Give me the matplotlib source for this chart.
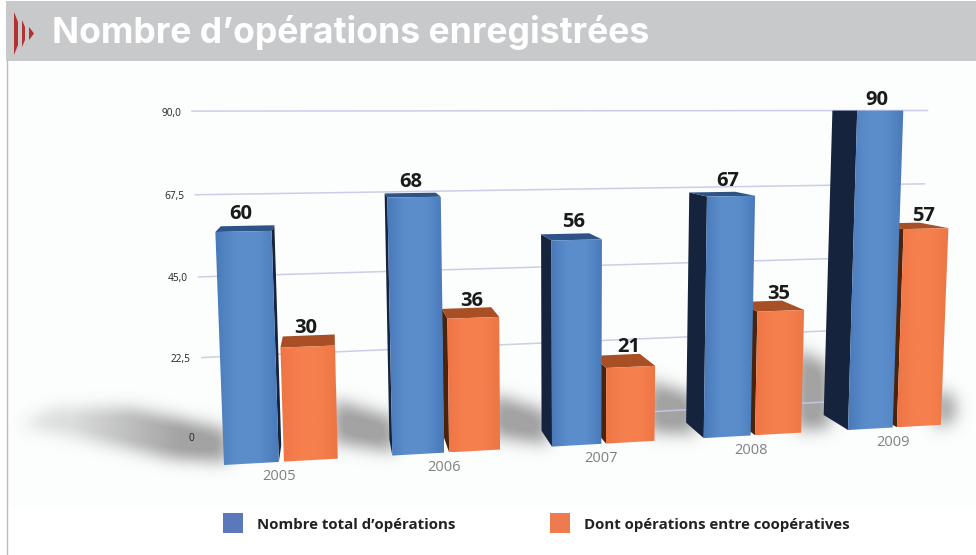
import numpy as np
import matplotlib
matplotlib.use('Agg')
import matplotlib.pyplot as plt
from matplotlib.path import Path
from matplotlib.patches import Rectangle, Polygon
from matplotlib.colors import to_rgb

years = ['2005', '2006', '2007', '2008', '2009']
total_ops = [60, 68, 56, 67, 90]
coop_ops = [30, 36, 21, 35, 57]
grid_values = [0, 22.5, 45, 67.5, 90]
grid_labels = ['0', '22,5', '45,0', '67,5', '90,0']
title = 'Nombre d\u2019opérations enregistrées'
legend_labels = ['Nombre total d\u2019opérations', 'Dont opérations entre coopératives']

BLUE = ('#4a7aba', '#5b8dcb')
ORANGE = ('#ee7646', '#f67f4e')
BLUE_SIDE, BLUE_CAP = '#16233c', '#2e5387'
ORANGE_SIDE, ORANGE_CAP = '#4a230c', '#a84f26'

# vanishing point of the bar depth + depth of bars / back wall
VP = np.array([330.0, 110.0])
BAR_DEPTH = 0.047
WALL_DEPTH = 0.084


def project(u, v, depth=0.0):
    # homography: u = group position, v = value, result in image pixels
    w = 1 + 0.027 * u - 0.0004 * v
    x = (178.9 * u + 224 - 0.23 * v) / w
    y = (2.86 * u + 465 - 3.976 * v) / w
    p = np.array([x, y])
    return p + depth * (VP - p)


def draw_bar(ax, u0, u1, value, colors, side_color, cap_color):
    fl_b, fr_b = project(u0, 0), project(u1, 0)
    fl_t, fr_t = project(u0, value), project(u1, value)
    rear = lambda p: p + BAR_DEPTH * (VP - p)
    # side face
    if fl_t[0] > VP[0]:
        a, b = fl_b, fl_t
    else:
        a, b = fr_b, fr_t
    side = np.array([a, rear(a), rear(b), b])
    ax.fill(side[:, 0], side[:, 1], color=side_color, lw=0, zorder=3)
    # cap
    cap = np.array([fl_t, fr_t, rear(fr_t), rear(fl_t)])
    ax.fill(cap[:, 0], cap[:, 1], color=cap_color, lw=0, zorder=3)
    # front face with a soft horizontal gradient
    q = np.array([fl_b, fr_b, fr_t, fl_t])
    c0, c1 = np.array(to_rgb(colors[0])), np.array(to_rgb(colors[1]))
    s = np.linspace(0, 1, 24)
    t = np.minimum(1, (1 - np.abs(2 * s - 1)) * 1.6)[:, None]
    grad = (c0 + (c1 - c0) * t)[None, :, :]
    im = ax.imshow(grad, extent=(q[:, 0].min(), q[:, 0].max(), q[:, 1].max(), q[:, 1].min()),
                   aspect='auto', interpolation='bilinear', zorder=4)
    im.set_clip_path(Polygon(q, closed=True, transform=ax.transData))
    return rear(fl_t), rear(fr_t), (fl_t[0] + fr_t[0]) / 2


def blur(a, sigma):
    r = int(3 * sigma)
    k = np.exp(-0.5 * (np.arange(-r, r + 1) / sigma) ** 2)
    k /= k.sum()
    a = np.apply_along_axis(lambda m: np.convolve(m, k, mode='same'), 0, a)
    return np.apply_along_axis(lambda m: np.convolve(m, k, mode='same'), 1, a)


W, H = 976, 555
fig = plt.figure(figsize=(W / 100, H / 100), dpi=100)
ax = fig.add_axes([0, 0, 1, 1])
ax.axis('off')

# page + header
ax.add_patch(Rectangle((7, 62), W - 7, 447, color='#fcfdfd', lw=0, zorder=0))
ax.add_patch(Rectangle((6, 1), W - 6, 60, color='#c8c9cb', lw=0, zorder=1))
ax.plot([6.5, 6.5], [61, 555], color='#b9bacb', lw=1, zorder=1)
logo_parts = [
    [(14, 12), (18, 22), (18, 45), (14, 55)],
    [(22, 20), (25, 27), (25, 40), (22, 47)],
    [(29, 27), (34, 33.5), (29, 40)],
]
for part in logo_parts:
    part = np.array(part)
    ax.fill(part[:, 0], part[:, 1], color='#b3312f', lw=0, zorder=2)
ax.text(52, 32.5, title, color='white', fontsize=25.6, family='Inter', weight='bold', va='center', ha='left', zorder=2)

# soft floor shadows
shadows = [
    [(20, 425), (55, 408), (130, 408), (228, 430), (228, 462), (170, 458), (90, 440)],
    [(333, 400), (395, 418), (395, 452), (333, 442)],
    [(492, 394), (548, 412), (548, 444), (492, 436)],
    [(648, 380), (695, 396), (695, 434), (648, 432)],
    [(796, 348), (830, 366), (830, 428), (796, 430)],
    [(935, 388), (955, 398), (955, 420), (935, 428)],
]
yy, xx = np.mgrid[0:H, 0:W]
pts = np.column_stack([xx.ravel() + 0.5, yy.ravel() + 0.5])
mask = np.zeros((H, W))
for s in shadows:
    mask = np.maximum(mask, Path(s).contains_points(pts).reshape(H, W).astype(float))
mask = blur(mask, 8)
shade = np.zeros((H, W, 4))
shade[..., :3] = 0.58
shade[..., 3] = np.minimum(mask * 1.1, 1) * np.clip((xx - 10) / 170, 0.35, 1) * 0.85
ax.imshow(shade, extent=(0, W, H, 0), zorder=1.5, aspect='auto')

# back wall gridlines + value axis labels
for val, lab in zip(grid_values, grid_labels):
    a = project(-0.175, val, WALL_DEPTH)
    start = project(2.2 if val == 0 else -0.175, val, WALL_DEPTH)
    b = project(4.88, val, WALL_DEPTH)
    ax.plot([start[0], b[0]], [start[1], b[1]], color='#c6c9e6', lw=1.1, alpha=0.9, zorder=2)
    ax.text(a[0] - 11, a[1] + 2, lab, ha='right', va='center', fontsize=7.3, family='Open Sans', color='#222222', zorder=5)

# bars
BAR_W = 0.32
COOP_START = 0.35
for i in range(len(years)):
    a, b, cx = draw_bar(ax, i, i + BAR_W, total_ops[i], BLUE, BLUE_SIDE, BLUE_CAP)
    ax.text(cx - 3, min(a[1], b[1]) - 11, str(total_ops[i]), ha='center', va='center',
            fontsize=14.5, family='Open Sans', weight='bold', color='#1a1a1a', zorder=6)
    a, b, cx = draw_bar(ax, i + COOP_START, i + COOP_START + BAR_W, coop_ops[i], ORANGE, ORANGE_SIDE, ORANGE_CAP)
    ax.text(cx - 2, min(a[1], b[1]) - 6.5, str(coop_ops[i]), ha='center', va='center',
            fontsize=14.5, family='Open Sans', weight='bold', color='#1a1a1a', zorder=6)
    p = project(i + BAR_W, 0)
    ax.text(p[0], p[1] + 15, years[i], ha='center', va='center', fontsize=10.5, family='Open Sans',
            color='#808080', zorder=6)

# legend
ax.add_patch(Rectangle((223, 513), 20, 20, color='#5b78bb', lw=0, zorder=5))
ax.add_patch(Rectangle((550, 513), 20, 20, color='#ee7a50', lw=0, zorder=5))
ax.text(257, 524.5, legend_labels[0], ha='left', va='center', fontsize=10.8, family='Open Sans', weight='bold', color='#222222')
ax.text(584, 524.5, legend_labels[1], ha='left', va='center', fontsize=10.8, family='Open Sans', weight='bold', color='#222222')

ax.set_xlim(0, W)
ax.set_ylim(H, 0)
fig.savefig('out.png', dpi=100)
